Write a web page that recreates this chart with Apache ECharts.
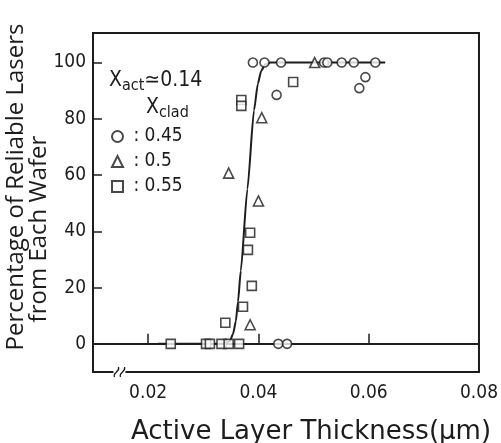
<!DOCTYPE html>
<html>
<head>
<meta charset="utf-8">
<script src="https://cdn.jsdelivr.net/npm/echarts@6/dist/echarts.min.js"></script>
<style>
  html, body { margin: 0; padding: 0; background: #fff; }
  #chart { width: 501px; height: 443px; }
</style>
</head>
<body>
<div id="chart"></div>
<script>
// x = active layer thickness (um), y = percentage of reliable lasers
var circle045 = [[0.0390, 100], [0.0411, 100], [0.0441, 100], [0.0519, 100], [0.0525, 100],
  [0.0551, 100], [0.0573, 100], [0.0612, 100], [0.0433, 88.5], [0.0594, 94.8],
  [0.0583, 90.9], [0.0436, 0], [0.0452, 0]];
var triangle05 = [[0.0502, 100], [0.0406, 80.4], [0.0346, 60.7], [0.0400, 50.8], [0.0385, 6.8]];
var square055 = [[0.0369, 86.7], [0.0369, 84.6], [0.0463, 93.1], [0.0385, 39.5], [0.0381, 33.4],
  [0.0388, 20.6], [0.0372, 13.2], [0.0340, 7.5], [0.0241, 0], [0.0305, 0], [0.0312, 0],
  [0.0333, 0], [0.0346, 0], [0.0365, 0]];
var fitCurve = [[0.0218, 0], [0.0340, 0], [0.0348, 1], [0.0354, 3.5], [0.0359, 8], [0.0363, 15],
  [0.0368, 26], [0.0380, 55], [0.0392, 83], [0.0399, 92.5], [0.0405, 97], [0.0412, 99.3],
  [0.0422, 100], [0.0630, 100]];
var xTicks = [0.02, 0.04, 0.06];
var xLabels = [0.02, 0.04, 0.06, 0.08];
var yTicks = [0, 20, 40, 60, 80, 100];

var ink = '#1c1c1c';
var font = '"DejaVu Sans Condensed", "DejaVu Sans", sans-serif';

var chart = echarts.init(document.getElementById('chart'));

function markStyle() {
  return { color: '#fff', borderColor: ink, borderWidth: 1.6 };
}

var option = {
  backgroundColor: '#fff',
  animation: false,
  grid: {
    left: 93, right: 13, top: 33, bottom: 71,
    show: true, borderColor: ink, borderWidth: 2
  },
  title: [
    {
      text: 'X{sub|act}≃0.14',
      left: 104, top: 63,
      textStyle: {
        fontFamily: font, fontSize: 21, fontWeight: 'normal', color: ink,
        rich: { sub: { fontFamily: font, fontSize: 16, color: ink, padding: [10, 0, 0, 0] } }
      }
    },
    {
      text: 'X{sub|clad}',
      left: 141, top: 90,
      textStyle: {
        fontFamily: font, fontSize: 21, fontWeight: 'normal', color: ink,
        rich: { sub: { fontFamily: font, fontSize: 16, color: ink, padding: [10, 0, 0, 0] } }
      }
    }
  ],
  legend: {
    data: ['0.45', '0.5', '0.55'],
    orient: 'vertical',
    left: 106, top: 122,
    itemWidth: 11, itemHeight: 11, itemGap: 6,
    formatter: ' : {name}',
    textStyle: { fontFamily: font, fontSize: 19, color: ink, lineHeight: 18 }
  },
  xAxis: {
    type: 'value',
    min: 0.01, max: 0.08,
    splitLine: { show: false },
    axisLine: { lineStyle: { color: ink, width: 2 } },
    axisTick: { inside: true, length: 10, lineStyle: { color: ink, width: 1.5 }, customValues: xTicks },
    axisLabel: {
      customValues: xLabels, margin: 12,
      fontFamily: font, fontSize: 19, color: ink,
      formatter: function (v) { return v.toFixed(2); }
    }
  },
  yAxis: {
    type: 'value',
    min: -10, max: 110.5,
    splitLine: { show: false },
    axisLine: { lineStyle: { color: ink, width: 2 } },
    axisTick: { inside: true, length: 9, lineStyle: { color: ink, width: 1.5 }, customValues: yTicks },
    axisLabel: { customValues: yTicks, margin: 7, fontFamily: font, fontSize: 19, color: ink }
  },
  series: [
    {
      name: 'fit', type: 'line', data: fitCurve, showSymbol: false, z: 1,
      smooth: 0.2, smoothMonotone: 'x',
      lineStyle: { color: ink, width: 2 }, silent: true
    },
    {
      name: '0.45', type: 'scatter', data: circle045, symbol: 'circle', symbolSize: 9, z: 3,
      itemStyle: markStyle()
    },
    {
      name: '0.5', type: 'scatter', data: triangle05, symbol: 'triangle', symbolSize: 10, z: 3,
      itemStyle: markStyle()
    },
    {
      name: '0.55', type: 'scatter', data: square055, symbol: 'rect', symbolSize: 9, z: 3,
      itemStyle: markStyle()
    }
  ]
};

chart.setOption(option);

// axis break marks and axis titles
var brk = chart.convertToPixel({ xAxisIndex: 0 }, 0.0148);
var axisY = chart.convertToPixel({ yAxisIndex: 0 }, -10);
function breakMark(dx) {
  return {
    type: 'bezierCurve',
    shape: { x1: brk + dx - 2, y1: axisY + 5, cpx1: brk + dx - 4, cpy1: axisY, cpx2: brk + dx + 4, cpy2: axisY, x2: brk + dx + 2, y2: axisY - 5 },
    style: { stroke: ink, lineWidth: 1.3, fill: null },
    z: 10
  };
}
chart.setOption({
  graphic: [
    { type: 'rect', shape: { x: brk - 6, y: axisY - 2, width: 12, height: 4 }, style: { fill: '#fff' }, z: 9 },
    breakMark(-3),
    breakMark(3),
    {
      type: 'text', x: 311, y: 432,
      style: {
        text: 'Active Layer Thickness(μm)', fill: ink,
        font: '26px "DejaVu Sans", sans-serif', align: 'center', verticalAlign: 'middle'
      }
    },
    {
      type: 'text', x: 16, y: 187, rotation: Math.PI / 2,
      style: {
        text: 'Percentage of Reliable Lasers', fill: ink,
        font: '24px "Open Sans", "DejaVu Sans", sans-serif', align: 'center', verticalAlign: 'middle'
      }
    },
    {
      type: 'text', x: 39, y: 229, rotation: Math.PI / 2,
      style: {
        text: 'from Each Wafer', fill: ink,
        font: '24px "Open Sans", "DejaVu Sans", sans-serif', align: 'center', verticalAlign: 'middle'
      }
    }
  ]
});
</script>
</body>
</html>
